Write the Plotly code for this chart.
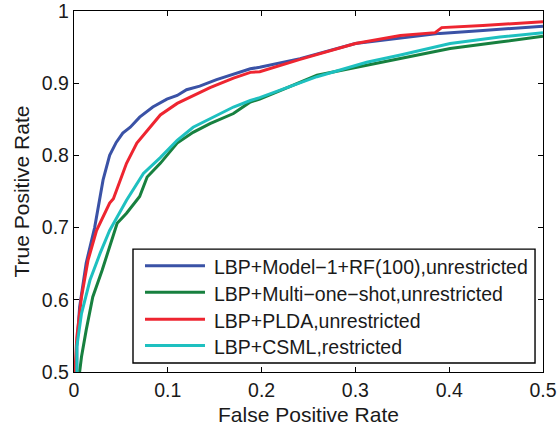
import plotly.graph_objects as go

names = [
    "LBP+Model−1+RF(100),unrestricted",
    "LBP+Multi−one−shot,unrestricted",
    "LBP+PLDA,unrestricted",
    "LBP+CSML,restricted",
]
colors = ["#3A52A6", "#17803F", "#EE2530", "#1EC0C0"]

blue_x = [0.003, 0.003, 0.006, 0.013, 0.022, 0.031, 0.038, 0.045, 0.052, 0.060, 0.070, 0.084, 0.099,
          0.110, 0.120, 0.134, 0.152, 0.170, 0.188, 0.198, 0.241, 0.300, 0.348, 0.390, 0.436, 0.500]
blue_y = [0.500, 0.535, 0.590, 0.651, 0.700, 0.766, 0.800, 0.818, 0.831, 0.839, 0.853, 0.867, 0.878,
          0.883, 0.891, 0.896, 0.905, 0.912, 0.920, 0.922, 0.934, 0.955, 0.963, 0.969, 0.973, 0.979]

green_x = [0.006, 0.008, 0.013, 0.020, 0.030, 0.038, 0.046, 0.056, 0.070, 0.078, 0.092, 0.110, 0.127,
           0.145, 0.170, 0.188, 0.198, 0.259, 0.312, 0.348, 0.401, 0.454, 0.500]
green_y = [0.500, 0.521, 0.558, 0.604, 0.641, 0.673, 0.706, 0.720, 0.743, 0.770, 0.789, 0.817, 0.832,
           0.844, 0.858, 0.874, 0.878, 0.911, 0.925, 0.934, 0.948, 0.957, 0.965]

red_x = [0.001, 0.003, 0.008, 0.015, 0.024, 0.038, 0.042, 0.049, 0.056, 0.067, 0.081, 0.092, 0.110,
         0.127, 0.145, 0.170, 0.188, 0.198, 0.241, 0.300, 0.348, 0.385, 0.392, 0.436, 0.500]
red_y = [0.500, 0.548, 0.604, 0.655, 0.696, 0.734, 0.740, 0.766, 0.789, 0.817, 0.839, 0.856, 0.872,
         0.883, 0.894, 0.907, 0.915, 0.916, 0.933, 0.955, 0.966, 0.970, 0.977, 0.980, 0.985]

cyan_x = [0.003, 0.003, 0.008, 0.017, 0.028, 0.038, 0.056, 0.070, 0.074, 0.092, 0.110, 0.127, 0.145,
          0.170, 0.188, 0.198, 0.259, 0.312, 0.348, 0.401, 0.454, 0.500]
cyan_y = [0.500, 0.535, 0.581, 0.627, 0.665, 0.696, 0.738, 0.766, 0.775, 0.797, 0.821, 0.839, 0.851,
          0.867, 0.876, 0.880, 0.909, 0.929, 0.939, 0.955, 0.964, 0.970]

x_ticks = [0, 0.1, 0.2, 0.3, 0.4, 0.5]
x_tick_labels = ["0", "0.1", "0.2", "0.3", "0.4", "0.5"]
y_ticks = [0.5, 0.6, 0.7, 0.8, 0.9, 1.0]
y_tick_labels = ["0.5", "0.6", "0.7", "0.8", "0.9", "1"]

series = [(blue_x, blue_y), (green_x, green_y), (red_x, red_y), (cyan_x, cyan_y)]

fig = go.Figure()
for (xs, ys), name, col in zip(series, names, colors):
    fig.add_trace(go.Scatter(x=xs, y=ys, mode="lines", name=name,
                             line=dict(color=col, width=3), showlegend=False))

FONT = "Liberation Sans, Arial, sans-serif"
TXT = "#1a1a1a"

# legend box drawn in paper coordinates (relative to the plot area)
leg_x0, leg_x1, leg_y0, leg_y1 = 0.1258, 0.983, 0.0249, 0.3404
line_x0, line_x1, text_x = 0.1514, 0.2793, 0.2942
row_y = [0.2942, 0.2206, 0.1459, 0.0733]

fig.add_shape(type="rect", xref="paper", yref="paper", x0=leg_x0, x1=leg_x1, y0=leg_y0, y1=leg_y1,
              line=dict(color="black", width=1.4), fillcolor="white", layer="above")
for name, col, ry in zip(names, colors, row_y):
    fig.add_shape(type="line", xref="paper", yref="paper", x0=line_x0, x1=line_x1, y0=ry, y1=ry,
                  line=dict(color=col, width=3), layer="above")
    fig.add_annotation(xref="paper", yref="paper", x=text_x, y=ry, yshift=-1.5, text=name,
                       showarrow=False, xanchor="left", yanchor="middle",
                       font=dict(family=FONT, size=19.5, color=TXT))

axis_common = dict(showline=True, linecolor="black", linewidth=1.3, mirror="ticks",
                   ticks="inside", ticklen=5, tickcolor="black", tickwidth=1,
                   showgrid=False, zeroline=False, automargin=False,
                   ticklabeloverflow="allow",
                   tickfont=dict(family=FONT, size=19.5, color=TXT))

fig.update_layout(
    width=558, height=426,
    margin=dict(l=74, r=15, t=11, b=54),
    paper_bgcolor="white", plot_bgcolor="white",
    font=dict(family=FONT, color=TXT),
    showlegend=False,
    xaxis=dict(range=[0, 0.5], tickvals=x_ticks, ticktext=x_tick_labels,
               title=dict(text="False Positive Rate", font=dict(family=FONT, size=21)),
               **axis_common),
    yaxis=dict(range=[0.5, 1], tickvals=y_ticks, ticktext=y_tick_labels,
               title=dict(text="True Positive Rate", font=dict(family=FONT, size=21), standoff=6),
               **axis_common),
)

fig.write_html("out.html", config={"displayModeBar": False},
               post_script="document.body.style.margin='0';document.body.style.overflow='hidden';")
